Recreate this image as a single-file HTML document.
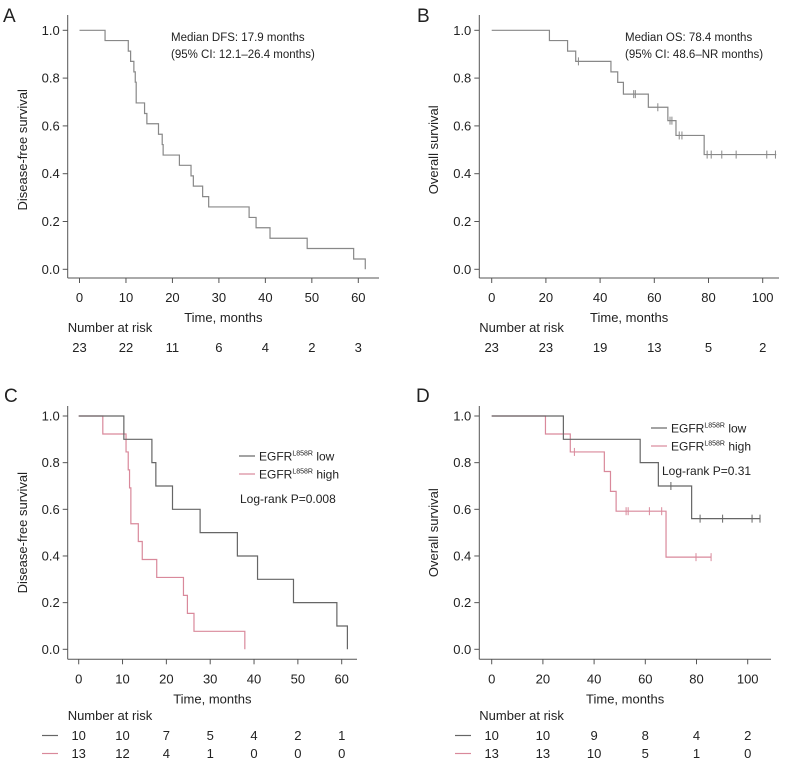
<!DOCTYPE html>
<html><head><meta charset="utf-8"><style>
body{margin:0;background:#fff;}
svg{display:block;font-family:"Liberation Sans",Arial,sans-serif;}
</style></head><body>
<svg id="fig" width="792" height="768" viewBox="0 0 792 768"></svg>
<script>
// Panel A: DFS, all patients
const aTimes=[0,5.5,10.5,11,11.7,12,12.2,14,14.5,17,17.8,18,21.5,24,24.5,26.5,27.8,36.5,38,41,49,59,61.5];
const aSurv=[1,0.957,0.913,0.87,0.826,0.783,0.696,0.652,0.609,0.565,0.522,0.478,0.435,0.391,0.348,0.304,0.261,0.217,0.174,0.13,0.087,0.043,0];
const aRisk=[23,22,11,6,4,2,3];
// Panel B: OS, all patients
const bTimes=[0,21.3,28,31,44,46.5,48.6,57.8,65,68,78.4,105];
const bSurv=[1,0.957,0.913,0.87,0.826,0.782,0.733,0.678,0.622,0.56,0.48,0.48];
const bCensor=[32,52.4,53,61.3,65.8,66.5,69.2,70.2,79.5,81,84.9,90.2,101.5,104.7];
const bRisk=[23,23,19,13,5,2];
// Panel C: DFS by EGFR L858R
const cLowTimes=[0,10.3,16.7,17.6,21.4,27.7,36.2,40.8,49,58.9,61.3];
const cLowSurv=[1,0.9,0.8,0.7,0.6,0.5,0.4,0.3,0.2,0.1,0];
const cHighTimes=[0,5.5,10.8,11.3,11.6,11.9,13.6,14.5,17.8,23.9,24.8,26.3,37.9];
const cHighSurv=[1,0.923,0.846,0.769,0.692,0.538,0.462,0.385,0.308,0.231,0.154,0.077,0];
const cRiskLow=[10,10,7,5,4,2,1];
const cRiskHigh=[13,12,4,1,0,0,0];
// Panel D: OS by EGFR L858R
const dLowTimes=[0,28,58,65.1,78.1,105];
const dLowSurv=[1,0.9,0.8,0.7,0.56,0.56];
const dLowCensor=[70,81.4,90.2,101.7,104.8];
const dHighTimes=[0,21,30.7,44,46.4,48.6,68.1,85.7];
const dHighSurv=[1,0.923,0.846,0.762,0.677,0.592,0.395,0.395];
const dHighCensor=[32.3,52.5,53.3,61.6,66.4,79.8,85.7];
const dRiskLow=[10,10,9,8,4,2];
const dRiskHigh=[13,13,10,5,1,0];
const yTicks=[0,0.2,0.4,0.6,0.8,1.0];
const xTicksA=[0,10,20,30,40,50,60];
const xTicksB=[0,20,40,60,80,100];

const NS="http://www.w3.org/2000/svg";
const svg=document.getElementById('fig');
function el(tag,attrs,parent){const e=document.createElementNS(NS,tag);for(const k in attrs)e.setAttribute(k,attrs[k]);(parent||svg).appendChild(e);return e;}
function txt(x,y,s,attrs,parent){const t=el('text',Object.assign({x:x,y:y,'font-size':13,fill:'#222'},attrs||{}),parent);t.textContent=s;return t;}

function panel(cfg){
  const g=el('g',{});
  
  
  const sx=t=>cfg.x0+(t-0)*(cfg.x1-cfg.x0)/cfg.tmax;
  const sy=v=>cfg.y0+(1-v)*(cfg.y1-cfg.y0);
  const lbl=txt(cfg.letterX,cfg.letterY,cfg.letter,{'font-size':19},g);
  
  
  const ya=el('line',{x1:cfg.ax,y1:cfg.axTop,x2:cfg.ax,y2:cfg.axY,stroke:'#555','stroke-width':1},g);
  
  
  const xa=el('line',{x1:cfg.ax,y1:cfg.axY,x2:cfg.axRight,y2:cfg.axY,stroke:'#555','stroke-width':1},g);
  
  
  yTicks.forEach(v=>{
    el('line',{x1:cfg.ax-5,y1:sy(v),x2:cfg.ax,y2:sy(v),stroke:'#555'},g);
    const t=txt(cfg.ax-8,sy(v)+4.5,v.toFixed(1),{'text-anchor':'end'},g);
    
    
  });
  cfg.xTicks.forEach(v=>{
    el('line',{x1:sx(v),y1:cfg.axY,x2:sx(v),y2:cfg.axY+5,stroke:'#555'},g);
    const t=txt(sx(v),cfg.axY+24,String(v),{'text-anchor':'middle'},g);
    
    
  });
  const yt=txt(0,0,cfg.ytitle,{'text-anchor':'middle',transform:`translate(${cfg.ytitleX},${(cfg.y0+cfg.y1)/2}) rotate(-90)`},g);
  
  
  const xt=txt((cfg.ax+cfg.axRight)/2,cfg.axY+44,'Time, months',{'text-anchor':'middle'},g);
  
  
  cfg.series.forEach(s=>{
    let d=`M${sx(s.t[0])},${sy(s.v[0])}`;
    for(let i=1;i<s.t.length;i++){d+=` H${sx(s.t[i])} V${sy(s.v[i])}`;}
    const p=el('path',{d:d,fill:'none',stroke:s.color,'stroke-width':1.2},g);
    
    
    (s.c||[]).forEach(c=>{
      let v=s.v[0];for(let i=0;i<s.t.length;i++){if(s.t[i]<=c)v=s.v[i];}
      const m=el('line',{x1:sx(c),y1:sy(v)-4,x2:sx(c),y2:sy(v)+4,stroke:s.color,'stroke-width':1},g);
      
      
    });
  });
  const nr=txt(cfg.ax,cfg.riskY,'Number at risk',{},g);
  
  
  cfg.risk.forEach((row,ri)=>{
    const y=cfg.riskY+20+ri*18;
    if(row.color){
      const dl=el('line',{x1:cfg.dashX,y1:y-4.5,x2:cfg.dashX+16,y2:y-4.5,stroke:row.color,'stroke-width':1.2},g);
      
      
    }
    row.vals.forEach((n,i)=>{
      const t=txt(sx(cfg.xTicks[i]),y,String(n),{'text-anchor':'middle'},g);
      
      
    });
  });
  return {g,sx,sy};
}

const grayA='#888', low='#666', high='#d9899b';
const pA=panel({name:'panel-a-dfs',letter:'A',letterX:3,letterY:22,x0:79.5,x1:358.3,tmax:60,y0:30.3,y1:269.3,ax:67.7,axTop:15,axY:278,axRight:379,
  xTicks:xTicksA,ytitle:'Disease-free survival',ytitleX:27,riskY:332,
  series:[{t:aTimes,v:aSurv,color:grayA,name:'dfs-curve'}],risk:[{vals:aRisk}]});
txt(171,41,'Median DFS: 17.9 months',{'font-size':11.5},pA.g);
txt(171,58,'(95% CI: 12.1–26.4 months)',{'font-size':11.5},pA.g);

const pB=panel({name:'panel-b-os',letter:'B',letterX:417,letterY:22,x0:491.7,x1:762.7,tmax:100,y0:30.3,y1:269.3,ax:479.3,axTop:15,axY:278,axRight:779,
  xTicks:xTicksB,ytitle:'Overall survival',ytitleX:438,riskY:332,
  series:[{t:bTimes,v:bSurv,c:bCensor,color:grayA,name:'os-curve'}],risk:[{vals:bRisk}]});
txt(625,41,'Median OS: 78.4 months',{'font-size':11.5},pB.g);
txt(625,58,'(95% CI: 48.6–NR months)',{'font-size':11.5},pB.g);

const pC=panel({name:'panel-c-dfs-egfr',letter:'C',letterX:4,letterY:402,x0:78.7,x1:341.7,tmax:60,y0:416,y1:649.3,ax:67.7,axTop:406,axY:659.3,axRight:357,
  xTicks:xTicksA,ytitle:'Disease-free survival',ytitleX:27,riskY:720,dashX:42,
  series:[{t:cHighTimes,v:cHighSurv,color:high,name:'dfs-high-curve'},{t:cLowTimes,v:cLowSurv,color:low,name:'dfs-low-curve'}],
  risk:[{vals:cRiskLow,color:low},{vals:cRiskHigh,color:high}]});
function legend(g,x,y,color,label){
  const l=el('line',{x1:x,y1:y,x2:x+16,y2:y,stroke:color,'stroke-width':1.2},g);
  
  
  const t=el('text',{x:x+20,y:y+4.5,'font-size':12,fill:'#222'},g);
  t.innerHTML='EGFR<tspan font-size="7" dy="-5">L858R</tspan><tspan dy="5"> '+label+'</tspan>';
  
  
}
legend(pC.g,239,456,low,'low');
legend(pC.g,239,474,high,'high');
txt(240,503,'Log-rank P=0.008',{'font-size':12},pC.g);

const pD=panel({name:'panel-d-os-egfr',letter:'D',letterX:416,letterY:402,x0:491.7,x1:747.7,tmax:100,y0:416,y1:649.3,ax:479.3,axTop:406,axY:659.3,axRight:771,
  xTicks:xTicksB,ytitle:'Overall survival',ytitleX:438,riskY:720,dashX:455,
  series:[{t:dHighTimes,v:dHighSurv,c:dHighCensor,color:high,name:'os-high-curve'},{t:dLowTimes,v:dLowSurv,c:dLowCensor,color:low,name:'os-low-curve'}],
  risk:[{vals:dRiskLow,color:low},{vals:dRiskHigh,color:high}]});
legend(pD.g,651,428,low,'low');
legend(pD.g,651,446,high,'high');
txt(662,475,'Log-rank P=0.31',{'font-size':12},pD.g);
</script>
</body></html>
